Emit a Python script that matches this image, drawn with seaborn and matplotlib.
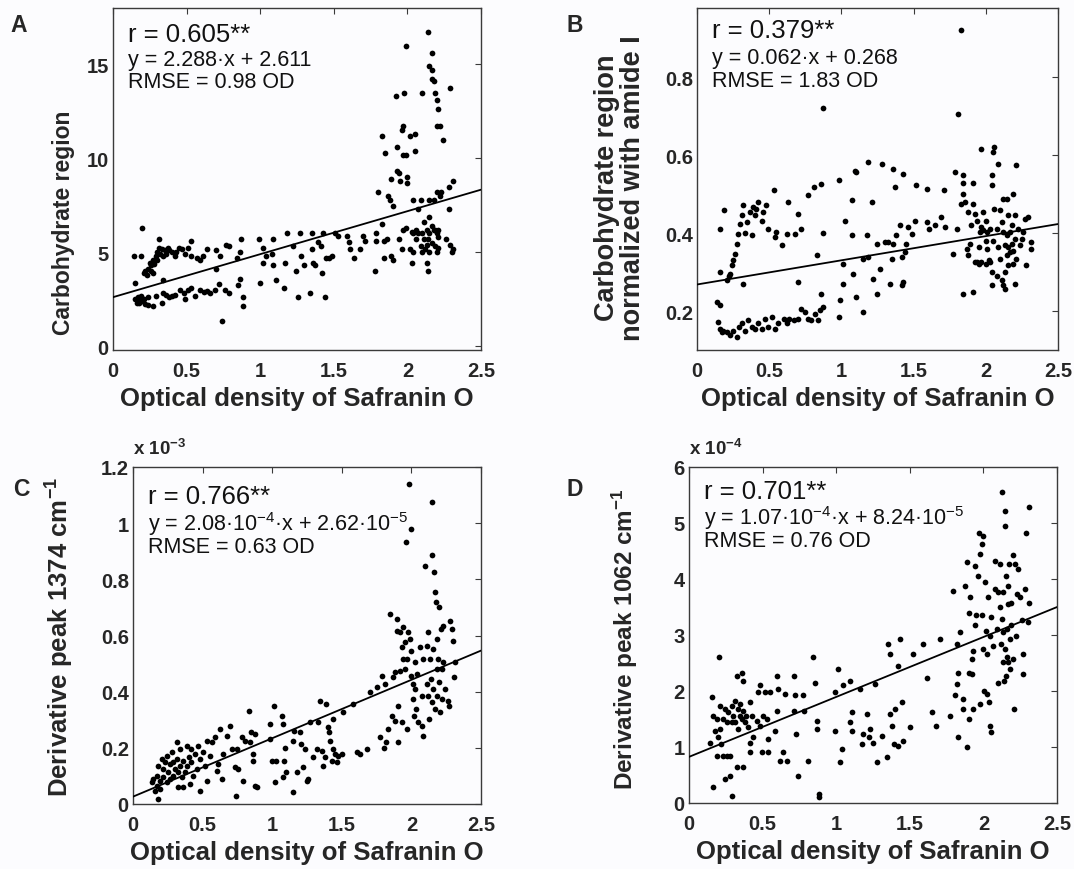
import numpy as np
import pandas as pd
import seaborn as sns
import matplotlib
matplotlib.use("Agg")
import matplotlib.pyplot as plt

# ---------------- data ----------------
x_ticks = [0, 0.5, 1, 1.5, 2, 2.5]
x_ticklabels = ["0", "0.5", "1", "1.5", "2", "2.5"]
x_label = "Optical density of Safranin O"

# Panel A: Carbohydrate region
a_points = [
    (0.14, 4.8), (0.19, 4.8), (0.2, 6.3), (0.15, 3.35),
    (0.15, 2.5), (0.16, 2.3), (0.17, 2.6), (0.18, 2.3), (0.18, 2.45), (0.19, 2.7),
    (0.2, 2.4), (0.21, 2.5), (0.22, 2.25), (0.24, 2.2), (0.24, 2.6), (0.27, 2.15),
    (0.29, 2.7), (0.33, 2.3), (0.34, 2.85), (0.34, 3.5), (0.36, 2.75), (0.38, 2.6),
    (0.40, 2.7), (0.42, 2.75), (0.455, 3.0), (0.48, 2.85), (0.49, 2.5), (0.51, 3.0),
    (0.53, 3.1), (0.56, 2.7), (0.59, 3.0), (0.62, 2.9), (0.64, 2.95), (0.66, 2.85),
    (0.69, 3.0), (0.72, 3.3), (0.74, 1.35), (0.76, 3.0), (0.79, 2.85), (0.85, 3.25),
    (0.86, 3.6), (0.885, 2.6), (0.885, 2.15),
    (0.21, 3.9), (0.22, 4.0), (0.24, 4.1), (0.25, 4.45), (0.26, 4.3), (0.27, 4.6),
    (0.29, 4.8), (0.30, 5.0), (0.31, 5.25), (0.31, 5.7), (0.32, 4.9), (0.33, 5.15),
    (0.34, 4.8), (0.35, 5.1), (0.375, 5.25), (0.40, 5.0), (0.42, 4.8), (0.445, 5.25),
    (0.47, 5.15), (0.49, 4.9), (0.51, 5.25), (0.53, 5.6), (0.53, 4.8), (0.57, 4.7),
    (0.59, 4.6), (0.61, 4.8), (0.64, 5.15), (0.70, 5.1), (0.70, 4.1), (0.73, 4.8),
    (0.77, 5.4), (0.79, 5.35), (0.84, 4.7), (0.86, 5.0), (0.87, 5.7),
    (0.23, 3.8), (0.26, 4.0), (0.28, 4.4), (0.30, 4.6), (0.36, 4.9), (0.38, 5.1),
    (0.43, 5.0), (0.27, 3.9),
    (0.99, 5.7), (1.02, 5.25), (1.04, 4.8), (1.08, 4.9), (1.09, 5.7), (1.0, 3.35),
    (1.02, 4.45), (1.09, 4.3), (1.11, 3.55), (1.16, 3.1), (1.17, 4.45), (1.18, 6.0),
    (1.22, 5.35), (1.24, 4.0), (1.26, 2.6), (1.27, 6.0), (1.28, 4.8), (1.30, 4.3),
    (1.34, 2.85), (1.35, 6.0), (1.35, 5.15), (1.36, 4.45), (1.37, 4.3), (1.39, 5.55),
    (1.41, 5.35), (1.42, 3.9), (1.43, 6.0), (1.44, 2.6), (1.45, 4.7), (1.47, 4.7),
    (1.49, 4.8), (1.51, 6.0), (1.53, 5.85), (1.59, 5.85), (1.60, 5.55), (1.61, 5.15),
    (1.64, 4.7), (1.68, 5.15), (1.70, 5.85), (1.71, 5.6),
    (1.78, 4.0), (1.80, 8.2), (1.79, 6.05), (1.79, 5.6), (1.83, 11.2), (1.85, 10.3),
    (1.83, 6.5), (1.84, 5.6), (1.86, 5.7), (1.84, 4.7), (1.87, 8.0), (1.88, 7.8),
    (1.89, 8.9), (1.90, 7.45), (1.89, 4.8), (1.9, 4.6), (1.92, 13.3), (1.93, 10.6),
    (1.93, 9.3), (1.94, 9.2), (1.95, 8.8), (1.94, 5.7), (1.96, 11.5), (1.97, 11.7),
    (1.97, 10.2), (1.99, 16.0), (1.98, 13.5), (1.99, 10.2), (2.0, 9.0), (2.0, 8.7),
    (2.02, 11.2), (2.02, 5.15), (2.03, 4.45), (2.04, 7.8), (2.04, 6.05), (2.05, 11.3),
    (2.05, 10.4), (2.06, 6.2), (2.06, 5.7), (2.07, 7.3), (2.09, 7.8), (2.10, 13.5),
    (2.1, 6.05), (2.11, 6.6), (2.11, 5.7), (2.12, 5.15), (2.13, 6.2), (2.13, 4.45),
    (2.14, 16.7), (2.14, 4.0), (2.15, 14.9), (2.15, 7.8), (2.15, 6.9), (2.15, 6.05),
    (2.17, 15.6), (2.17, 14.7), (2.17, 14.2), (2.17, 6.4), (2.17, 5.5), (2.18, 14.1),
    (2.18, 7.8), (2.19, 13.5), (2.19, 6.2), (2.19, 5.35), (2.2, 13.1), (2.2, 11.7),
    (2.2, 8.2), (2.2, 6.05), (2.21, 12.6), (2.21, 5.8), (2.21, 5.25), (2.22, 11.7),
    (2.22, 8.0), (2.23, 8.2), (2.24, 11.0), (2.26, 5.7), (2.28, 7.3), (2.28, 8.45),
    (2.29, 13.75), (2.29, 5.4), (2.30, 5.0), (2.31, 8.8), (2.31, 5.15),
    (1.96, 5.15), (1.97, 6.2), (1.99, 6.3), (2.03, 6.1), (2.04, 5.0), (2.07, 6.05),
    (2.09, 5.35), (2.1, 5.0), (2.13, 5.4), (2.14, 5.7), (2.15, 5.0), (2.18, 6.2),
    (2.2, 5.0), (2.21, 6.2),
]
a_fit = (2.288, 2.611)
a_texts = ["r = 0.605**", "y = 2.288·x + 2.611", "RMSE = 0.98 OD"]
a_yticks = [0, 5, 10, 15]
a_yticklabels = ["0", "5", "10", "15"]

# Panel B: Carbohydrate region normalized with amide I
b_points = [
    (0.136, 0.223), (0.148, 0.172), (0.16, 0.155), (0.17, 0.146), (0.18, 0.15),
    (0.205, 0.146), (0.23, 0.138), (0.25, 0.15), (0.275, 0.133), (0.29, 0.159),
    (0.31, 0.168), (0.33, 0.15), (0.355, 0.176), (0.38, 0.159), (0.40, 0.155),
    (0.425, 0.168), (0.45, 0.155), (0.47, 0.18), (0.49, 0.159), (0.52, 0.185),
    (0.54, 0.155), (0.56, 0.168), (0.60, 0.18), (0.62, 0.168), (0.64, 0.18),
    (0.67, 0.176), (0.70, 0.18), (0.72, 0.206), (0.75, 0.197), (0.77, 0.18),
    (0.79, 0.176), (0.82, 0.193), (0.84, 0.176), (0.85, 0.202), (0.875, 0.21),
    (0.86, 0.244), (0.83, 0.343), (0.16, 0.215),
    (0.16, 0.41), (0.19, 0.46), (0.16, 0.30), (0.205, 0.28), (0.22, 0.29),
    (0.23, 0.296), (0.24, 0.317), (0.25, 0.33), (0.26, 0.347), (0.275, 0.372),
    (0.285, 0.398), (0.30, 0.424), (0.31, 0.445), (0.32, 0.27), (0.32, 0.471),
    (0.33, 0.40), (0.345, 0.428), (0.37, 0.454), (0.38, 0.394), (0.39, 0.467),
    (0.40, 0.445), (0.41, 0.462), (0.42, 0.48), (0.45, 0.432), (0.46, 0.454),
    (0.48, 0.471), (0.49, 0.41), (0.53, 0.51), (0.54, 0.39), (0.55, 0.402),
    (0.59, 0.368), (0.62, 0.398), (0.63, 0.48), (0.68, 0.398), (0.70, 0.45),
    (0.70, 0.274), (0.72, 0.41), (0.77, 0.497), (0.81, 0.518), (0.86, 0.526),
    (0.875, 0.40), (0.875, 0.72),
    (0.98, 0.535), (0.98, 0.185), (0.99, 0.227), (1.01, 0.32), (1.01, 0.27),
    (1.025, 0.432), (1.07, 0.484), (1.07, 0.394), (1.08, 0.296), (1.095, 0.56),
    (1.10, 0.556), (1.10, 0.236), (1.15, 0.197), (1.15, 0.334), (1.175, 0.394),
    (1.185, 0.582), (1.185, 0.338), (1.21, 0.48), (1.22, 0.283), (1.245, 0.372),
    (1.245, 0.244), (1.27, 0.308), (1.28, 0.578), (1.30, 0.377), (1.325, 0.377),
    (1.335, 0.27), (1.35, 0.334), (1.36, 0.565), (1.36, 0.372), (1.37, 0.518),
    (1.38, 0.394), (1.405, 0.42), (1.42, 0.338), (1.42, 0.266), (1.43, 0.552),
    (1.43, 0.274), (1.44, 0.351), (1.45, 0.372), (1.46, 0.415), (1.49, 0.398),
    (1.51, 0.432), (1.52, 0.522), (1.59, 0.428), (1.59, 0.514), (1.61, 0.41),
    (1.65, 0.42), (1.69, 0.441), (1.71, 0.51), (1.72, 0.415),
    (1.775, 0.347), (1.79, 0.556), (1.80, 0.41), (1.81, 0.706), (1.83, 0.92),
    (1.83, 0.475), (1.84, 0.527), (1.845, 0.548), (1.845, 0.50), (1.845, 0.244),
    (1.855, 0.48), (1.87, 0.36), (1.88, 0.454), (1.88, 0.343), (1.89, 0.372),
    (1.90, 0.42), (1.91, 0.527), (1.91, 0.249), (1.91, 0.475), (1.925, 0.326),
    (1.925, 0.45), (1.94, 0.432), (1.94, 0.326), (1.95, 0.364), (1.95, 0.32),
    (1.96, 0.402), (1.97, 0.415), (1.97, 0.616), (1.97, 0.326), (1.98, 0.454),
    (1.98, 0.407), (2.0, 0.432), (2.0, 0.38), (2.0, 0.32), (2.01, 0.402),
    (2.01, 0.36), (2.02, 0.33), (2.03, 0.41), (2.03, 0.326), (2.04, 0.30),
    (2.04, 0.266), (2.04, 0.548), (2.04, 0.522), (2.05, 0.608), (2.05, 0.38),
    (2.06, 0.62), (2.06, 0.462), (2.075, 0.41), (2.075, 0.291), (2.085, 0.578),
    (2.085, 0.364), (2.10, 0.458), (2.10, 0.334), (2.11, 0.428), (2.11, 0.279),
    (2.12, 0.488), (2.12, 0.402), (2.12, 0.266), (2.13, 0.368), (2.13, 0.30),
    (2.13, 0.257), (2.145, 0.394), (2.145, 0.343), (2.145, 0.488), (2.155, 0.445),
    (2.155, 0.364), (2.155, 0.317), (2.17, 0.402), (2.17, 0.351), (2.18, 0.42),
    (2.18, 0.372), (2.19, 0.355), (2.19, 0.32), (2.19, 0.50), (2.20, 0.445),
    (2.20, 0.385), (2.20, 0.27), (2.21, 0.574), (2.21, 0.334), (2.225, 0.41),
    (2.235, 0.368), (2.25, 0.385), (2.26, 0.402), (2.27, 0.437), (2.28, 0.317),
    (2.295, 0.441), (2.31, 0.377), (2.31, 0.36),
]
b_fit = (0.062, 0.268)
b_texts = ["r = 0.379**", "y = 0.062·x + 0.268", "RMSE = 1.83 OD"]
b_yticks = [0.2, 0.4, 0.6, 0.8]
b_yticklabels = ["0.2", "0.4", "0.6", "0.8"]

# Panel C: Derivative peak 1374 cm-1 (values in units of 1e-3)
c_points = [
    (0.134, 0.077), (0.146, 0.089), (0.158, 0.047), (0.17, 0.065), (0.17, 0.10),
    (0.18, 0.018), (0.18, 0.137), (0.194, 0.083), (0.194, 0.053), (0.206, 0.16),
    (0.218, 0.095), (0.218, 0.125), (0.23, 0.148), (0.242, 0.077), (0.242, 0.172),
    (0.254, 0.113), (0.266, 0.089), (0.266, 0.142), (0.278, 0.184), (0.29, 0.10),
    (0.29, 0.148), (0.30, 0.125), (0.314, 0.22), (0.314, 0.16), (0.326, 0.059),
    (0.326, 0.113), (0.338, 0.137), (0.338, 0.196), (0.35, 0.095), (0.36, 0.154),
    (0.36, 0.059), (0.374, 0.113), (0.386, 0.208), (0.386, 0.137), (0.40, 0.166),
    (0.41, 0.071), (0.42, 0.148), (0.42, 0.196), (0.433, 0.10), (0.445, 0.178),
    (0.457, 0.125), (0.47, 0.208), (0.48, 0.047), (0.48, 0.16), (0.505, 0.184),
    (0.517, 0.137), (0.53, 0.083), (0.534, 0.226), (0.553, 0.172), (0.565, 0.22),
    (0.59, 0.237), (0.60, 0.119), (0.613, 0.142), (0.625, 0.267), (0.637, 0.089),
    (0.65, 0.178), (0.673, 0.243), (0.697, 0.279), (0.71, 0.196), (0.733, 0.13),
    (0.74, 0.03), (0.745, 0.196), (0.757, 0.125), (0.78, 0.237), (0.79, 0.083),
    (0.805, 0.226), (0.83, 0.332), (0.84, 0.22), (0.85, 0.255), (0.865, 0.178),
    (0.865, 0.154), (0.876, 0.065), (0.876, 0.25), (0.888, 0.059),
    (0.985, 0.285), (0.985, 0.231), (0.996, 0.154), (1.01, 0.35), (1.02, 0.077),
    (1.03, 0.154), (1.07, 0.315), (1.08, 0.285), (1.085, 0.154), (1.09, 0.20),
    (1.08, 0.095), (1.10, 0.113), (1.15, 0.042), (1.15, 0.226), (1.16, 0.261),
    (1.175, 0.113), (1.20, 0.255), (1.21, 0.214), (1.22, 0.13), (1.235, 0.196),
    (1.25, 0.083), (1.26, 0.089), (1.27, 0.291), (1.295, 0.166), (1.32, 0.196),
    (1.33, 0.291), (1.343, 0.368), (1.355, 0.19), (1.367, 0.137), (1.38, 0.166),
    (1.39, 0.356), (1.403, 0.273), (1.41, 0.255), (1.415, 0.226), (1.427, 0.154),
    (1.44, 0.303), (1.44, 0.196), (1.45, 0.178), (1.463, 0.148), (1.475, 0.172),
    (1.5, 0.178), (1.51, 0.326), (1.583, 0.356), (1.607, 0.184), (1.63, 0.178),
    (1.68, 0.196), (1.70, 0.398), (1.75, 0.415),
    (1.775, 0.237), (1.786, 0.457), (1.80, 0.20), (1.81, 0.427), (1.82, 0.22),
    (1.834, 0.267), (1.846, 0.677), (1.86, 0.315), (1.87, 0.451), (1.88, 0.297),
    (1.88, 0.469), (1.894, 0.659), (1.894, 0.617), (1.906, 0.22), (1.906, 0.35),
    (1.918, 0.611), (1.918, 0.475), (1.93, 0.291), (1.93, 0.558), (1.94, 0.516),
    (1.94, 0.629), (1.955, 0.576), (1.955, 0.481), (1.96, 0.932), (1.966, 0.267),
    (1.97, 0.516), (1.978, 0.611), (1.985, 1.14), (1.99, 0.588), (1.995, 0.979),
    (2.0, 0.546), (2.0, 0.457), (2.01, 0.427), (2.014, 0.374), (2.02, 0.315),
    (2.026, 0.504), (2.026, 0.41), (2.03, 0.338), (2.04, 0.463), (2.05, 0.291),
    (2.06, 0.558), (2.074, 0.279), (2.074, 0.386), (2.086, 0.243), (2.086, 0.516),
    (2.098, 0.849), (2.11, 0.564), (2.11, 0.427), (2.12, 0.611), (2.12, 0.386),
    (2.13, 0.303), (2.134, 0.516), (2.14, 0.445), (2.146, 1.074), (2.146, 0.362),
    (2.15, 0.885), (2.158, 0.41), (2.158, 0.552), (2.163, 0.825), (2.17, 0.338),
    (2.17, 0.754), (2.18, 0.718), (2.182, 0.588), (2.182, 0.481), (2.186, 0.386),
    (2.194, 0.516), (2.2, 0.70), (2.2, 0.433), (2.205, 0.326), (2.21, 0.623),
    (2.218, 0.481), (2.218, 0.374), (2.23, 0.635), (2.23, 0.504), (2.24, 0.41),
    (2.265, 0.368), (2.27, 0.35), (2.277, 0.653), (2.29, 0.623), (2.30, 0.582),
    (2.306, 0.451), (2.313, 0.504),
]
c_fit = (0.208, 0.0262)
c_texts = ["r = 0.766**", "y = 2.08·10$^{-4}$·x + 2.62·10$^{-5}$", "RMSE = 0.63 OD"]
c_yticks = [0, 0.2, 0.4, 0.6, 0.8, 1.0, 1.2]
c_yticklabels = ["0", "0.2", "0.4", "0.6", "0.8", "1", "1.2"]

# Panel D: Derivative peak 1062 cm-1 (values in units of 1e-4)
d_points = [
    (0.143, 1.08), (0.154, 1.89), (0.165, 0.28), (0.165, 1.56), (0.177, 1.29),
    (0.188, 1.5), (0.188, 0.845), (0.2, 1.17), (0.206, 2.6), (0.21, 1.74),
    (0.21, 1.32), (0.22, 1.05), (0.233, 1.5), (0.233, 0.845), (0.245, 0.43),
    (0.245, 1.68), (0.256, 1.44), (0.256, 0.845), (0.267, 1.62), (0.28, 0.845),
    (0.28, 0.49), (0.29, 0.13), (0.29, 1.74), (0.29, 1.44), (0.30, 1.56),
    (0.31, 1.83), (0.31, 1.44), (0.324, 0.64), (0.324, 2.27), (0.335, 1.68),
    (0.335, 1.32), (0.345, 1.56), (0.345, 1.77), (0.358, 2.33), (0.358, 1.5),
    (0.37, 1.65), (0.37, 2.18), (0.37, 0.64), (0.38, 1.44), (0.39, 1.56),
    (0.40, 1.35), (0.414, 1.8), (0.414, 1.08), (0.414, 0.905), (0.425, 1.56),
    (0.437, 1.17), (0.46, 1.47), (0.47, 1.98), (0.48, 2.1), (0.48, 1.38),
    (0.494, 0.905), (0.505, 1.56), (0.516, 1.98), (0.528, 1.5), (0.54, 1.14),
    (0.54, 0.905), (0.55, 1.98), (0.584, 1.29), (0.6, 2.27), (0.6, 1.65),
    (0.607, 2.04), (0.618, 0.756), (0.64, 0.905), (0.652, 1.95), (0.663, 0.756),
    (0.71, 2.27), (0.71, 1.65), (0.72, 1.92), (0.73, 1.23), (0.743, 0.49),
    (0.777, 1.92), (0.78, 1.65), (0.81, 0.756), (0.845, 2.6), (0.856, 2.15),
    (0.867, 1.47), (0.867, 1.32), (0.88, 0.16), (0.88, 0.1),
    (0.99, 1.98), (0.99, 1.29), (1.01, 2.39), (1.026, 0.726), (1.037, 0.964),
    (1.048, 2.1), (1.094, 1.44), (1.094, 2.18), (1.105, 1.62), (1.105, 1.29),
    (1.16, 2.04), (1.173, 1.05), (1.185, 1.23), (1.207, 1.59), (1.22, 1.17),
    (1.23, 1.32), (1.252, 1.08), (1.264, 2.13), (1.275, 0.726), (1.31, 1.2),
    (1.343, 0.815), (1.354, 2.84), (1.365, 2.66), (1.365, 1.59), (1.377, 1.38),
    (1.39, 1.05), (1.40, 1.68), (1.422, 2.45), (1.422, 1.02), (1.433, 2.93),
    (1.445, 1.8), (1.456, 1.11), (1.50, 1.35), (1.52, 2.66), (1.592, 2.84),
    (1.615, 2.24), (1.65, 1.62), (1.68, 1.38), (1.705, 2.93),
    (1.773, 1.56), (1.796, 3.79), (1.807, 1.92), (1.82, 2.84), (1.82, 2.13),
    (1.83, 1.17), (1.83, 2.33), (1.84, 3.05), (1.86, 1.86), (1.864, 1.68),
    (1.875, 3.88), (1.886, 4.3), (1.886, 0.994), (1.9, 2.33), (1.9, 3.4),
    (1.905, 1.5), (1.91, 3.67), (1.92, 2.3), (1.92, 2.57), (1.93, 1.68),
    (1.93, 2.72), (1.94, 4.24), (1.94, 3.17), (1.95, 3.35), (1.966, 4.06),
    (1.97, 4.83), (1.977, 4.45), (1.977, 1.77), (1.99, 3.35), (1.99, 4.63),
    (2.0, 4.77), (2.0, 2.75), (2.004, 2.0), (2.01, 3.94), (2.02, 3.08),
    (2.022, 1.95), (2.027, 2.66), (2.03, 3.67), (2.04, 1.8), (2.045, 1.38),
    (2.045, 2.99), (2.055, 3.32), (2.055, 1.26), (2.066, 2.81), (2.08, 4.33),
    (2.08, 3.82), (2.09, 3.1), (2.1, 3.76), (2.1, 2.15), (2.11, 3.5),
    (2.113, 4.27), (2.117, 2.84), (2.124, 5.55), (2.124, 3.29), (2.13, 2.51),
    (2.135, 3.05), (2.135, 3.76), (2.14, 2.18), (2.147, 5.22), (2.147, 4.95),
    (2.147, 2.75), (2.153, 4.06), (2.153, 2.27), (2.16, 3.1), (2.16, 2.6),
    (2.17, 3.88), (2.17, 3.55), (2.17, 2.51), (2.176, 4.27), (2.18, 2.93),
    (2.18, 2.39), (2.19, 3.58), (2.19, 3.17), (2.2, 4.42), (2.2, 2.57),
    (2.21, 1.68), (2.215, 4.27), (2.22, 2.99), (2.226, 3.73), (2.237, 4.18),
    (2.25, 3.67), (2.26, 3.26), (2.267, 2.3), (2.27, 2.66), (2.28, 3.82),
    (2.29, 4.83), (2.307, 5.28), (2.307, 3.58), (2.3, 3.23),
]
d_fit = (1.07, 0.824)
d_texts = ["r = 0.701**", "y = 1.07·10$^{-4}$·x + 8.24·10$^{-5}$", "RMSE = 0.76 OD"]
d_yticks = [0, 1, 2, 3, 4, 5, 6]
d_yticklabels = ["0", "1", "2", "3", "4", "5", "6"]

# ---------------- style ----------------
sns.set_theme(style="white")
plt.rcParams["font.family"] = ["Liberation Sans", "DejaVu Sans"]
plt.rcParams.update({
    "mathtext.fontset": "custom",
    "mathtext.rm": "Liberation Sans",
    "mathtext.it": "Liberation Sans:italic",
    "mathtext.bf": "Liberation Sans:bold",
    "mathtext.default": "regular",
    "axes.edgecolor": "#3a3a3a",
    "axes.linewidth": 1.0,
})
BG = "#fcfcfe"

W, H = 1074, 870
fig = plt.figure(figsize=(W / 100, H / 100), dpi=100, facecolor=BG)

panels = [
    dict(letter="A", box=(113, 9, 481, 351), pts=a_points, fit=a_fit, texts=a_texts,
         ylim=(-0.2, 18), yticks=a_yticks, yticklabels=a_yticklabels,
         ylabel="Carbohydrate region", ylab_size=16.5, ylab_xy=(-0.103, 0.374),
         scale=None, letter_xy=(10, 14), txt_base=(33, 57, 79)),
    dict(letter="B", box=(697, 9, 1058, 351), pts=b_points, fit=b_fit, texts=b_texts,
         ylim=(0.1, 0.977), yticks=b_yticks, yticklabels=b_yticklabels,
         ylabel="Carbohydrate region\nnormalized with amide I", ylab_size=19.5,
         ylab_xy=(-0.142, 0.477),
         scale=None, letter_xy=(567, 14), txt_base=(29, 55, 78)),
    dict(letter="C", box=(133, 468, 481, 805), pts=c_points, fit=c_fit, texts=c_texts,
         ylim=(0, 1.2), yticks=c_yticks, yticklabels=c_yticklabels,
         ylabel=r"Derivative peak 1374 cm$^{\mathbf{-1}}$", ylab_size=18.5,
         ylab_xy=(-0.165, 0.5),
         scale=r"$\mathbf{x\ 10^{-3}}$", letter_xy=(13, 478), txt_base=(36, 63, 85)),
    dict(letter="D", box=(689, 468, 1057, 804), pts=d_points, fit=d_fit, texts=d_texts,
         ylim=(0, 6), yticks=d_yticks, yticklabels=d_yticklabels,
         ylabel=r"Derivative peak 1062 cm$^{\mathbf{-1}}$", ylab_size=17.5,
         ylab_xy=(-0.133, 0.49),
         scale=r"$\mathbf{x\ 10^{-4}}$", letter_xy=(567, 478), txt_base=(31, 57, 79)),
]

for p in panels:
    l, t, r, b = p["box"]
    ax = fig.add_axes([l / W, 1 - b / H, (r - l) / W, (b - t) / H])
    ax.set_facecolor(BG)
    df = pd.DataFrame(p["pts"], columns=["x", "y"])
    sns.scatterplot(data=df, x="x", y="y", ax=ax, color="black", s=17,
                    linewidth=0, legend=False, zorder=3)
    xs = np.array([0.0, 2.5])
    slope, icpt = p["fit"]
    sns.lineplot(x=xs, y=slope * xs + icpt, ax=ax, color="black", linewidth=1.3,
                 zorder=4)
    ax.set_xlim(0, 2.5)
    ax.set_ylim(*p["ylim"])
    ax.set_xticks(x_ticks)
    ax.set_xticklabels(x_ticklabels)
    ax.set_yticks(p["yticks"])
    ax.set_yticklabels(p["yticklabels"])
    ax.tick_params(direction="in", top=True, right=True, length=4, width=0.8,
                   color="#3a3a3a", labelsize=14.5, pad=3)
    ax.tick_params(axis="x", pad=8)
    for lab in ax.get_xticklabels() + ax.get_yticklabels():
        lab.set_fontweight("bold")
    ax.set_xlabel(x_label, fontsize=18.5, fontweight="bold", labelpad=4)
    ax.set_ylabel(p["ylabel"], fontsize=p["ylab_size"], fontweight="bold",
                  linespacing=1.0)
    ax.yaxis.set_label_coords(*p["ylab_xy"])
    for sp in ax.spines.values():
        sp.set_visible(True)
    # annotation texts
    sizes = (18.5, 15.5, 15.5)
    for txt, base, fs in zip(p["texts"], p["txt_base"], sizes):
        ax.annotate(txt, xy=(0, 1), xycoords="axes fraction",
                    xytext=(11, -base * 0.72), textcoords="offset points",
                    ha="left", va="baseline", fontsize=fs, color="#111111")
    if p["scale"]:
        ax.annotate(p["scale"], xy=(0, 1), xycoords="axes fraction",
                    xytext=(0, 9), textcoords="offset points",
                    ha="left", va="baseline", fontsize=13.5)
    lx, ly = p["letter_xy"]
    fig.text(lx / W, 1 - ly / H, p["letter"], fontsize=16.5, fontweight="bold",
             ha="left", va="top")

fig.savefig("out.png", dpi=100, facecolor=BG)
